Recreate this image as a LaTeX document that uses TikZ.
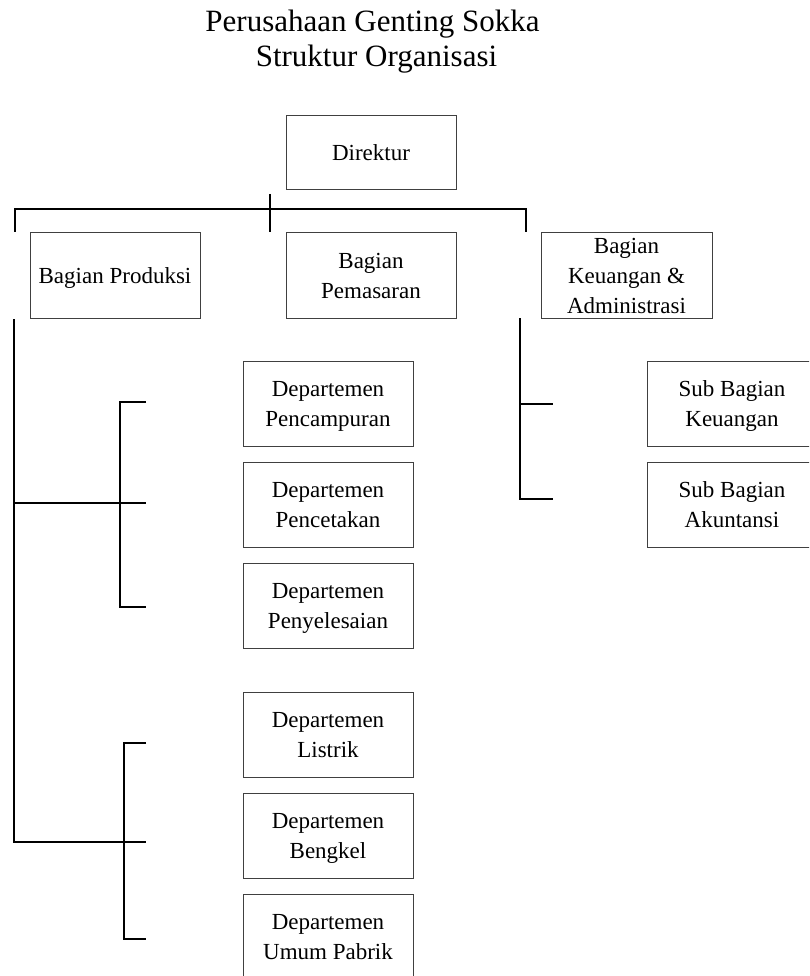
\documentclass[tikz,border=0pt]{standalone}
\usepackage{fontspec}
\setmainfont{Liberation Serif}
\begin{document}
\begin{tikzpicture}[x=1pt,y=-1pt,
  box/.style={draw=black!75, line width=1pt, rectangle, inner sep=0pt,
    minimum width=170pt, minimum height=85pt, align=center, text depth=0pt,
    font=\fontsize{23}{30}\selectfont},
  conn/.style={draw=black, line width=2pt},
  ttl/.style={anchor=base, inner sep=0pt, font=\fontsize{31}{35}\selectfont}]
\useasboundingbox (0,0) rectangle (809,976);
\clip (0,0) rectangle (809,976);
% title
\node[ttl] (t1) at (372.5,32) {Perusahaan Genting Sokka};
\node[ttl] (t2) at (376.5,67) {Struktur Organisasi};
% boxes
\node[box, minimum height=74pt] (dir) at (371,153) {Direktur};
\node[box] (prod) at (115,275.5) {Bagian Produksi};
\node[box] (pem) at (371,275.5) {Bagian\\Pemasaran};
\node[box, minimum width=171pt] (keu) at (626.5,275.5) {Bagian\\Keuangan \&\\Administrasi};
\node[box] (d1) at (328,403.5) {Departemen\\Pencampuran};
\node[box] (d2) at (328,504.5) {Departemen\\Pencetakan};
\node[box] (d3) at (328,605.5) {Departemen\\Penyelesaian};
\node[box] (d4) at (328,734.5) {Departemen\\Listrik};
\node[box] (d5) at (328,835.5) {Departemen\\Bengkel};
\node[box] (d6) at (328,936.5) {Departemen\\Umum Pabrik};
\node[box] (s1) at (732,403.5) {Sub Bagian\\Keuangan};
\node[box] (s2) at (732,504.5) {Sub Bagian\\Akuntansi};
% connector points
\coordinate (tv1) at (270,194);
\coordinate (tv2) at (270,232);
\coordinate (hl) at (15,209);
\coordinate (hr) at (526,209);
\coordinate (hlb) at (15,232);
\coordinate (hrb) at (526,232);
\coordinate (lv1) at (14,319);
\coordinate (lv2) at (14,842);
\coordinate (lm1) at (14,503);
\coordinate (lm1e) at (146,503);
\coordinate (lm2e) at (146,842);
\coordinate (b1t) at (120,402);
\coordinate (b1b) at (120,607);
\coordinate (b1te) at (146,402);
\coordinate (b1be) at (146,607);
\coordinate (b2t) at (124,743);
\coordinate (b2b) at (124,939);
\coordinate (b2te) at (146,743);
\coordinate (b2be) at (146,939);
\coordinate (rv1) at (520,318);
\coordinate (rv2) at (520,499);
\coordinate (rt1) at (520,404);
\coordinate (rt1e) at (553,404);
\coordinate (rt2e) at (553,499);
% connectors
\draw[conn] (tv1) -- (tv2);
\draw[conn] (hlb) -- (hl) -- (hr) -- (hrb);
\draw[conn] (lv1) -- (lv2) -- (lm2e);
\draw[conn] (lm1) -- (lm1e);
\draw[conn] (b1te) -- (b1t) -- (b1b) -- (b1be);
\draw[conn] (b2te) -- (b2t) -- (b2b) -- (b2be);
\draw[conn] (rv1) -- (rv2) -- (rt2e);
\draw[conn] (rt1) -- (rt1e);
\end{tikzpicture}
\end{document}
